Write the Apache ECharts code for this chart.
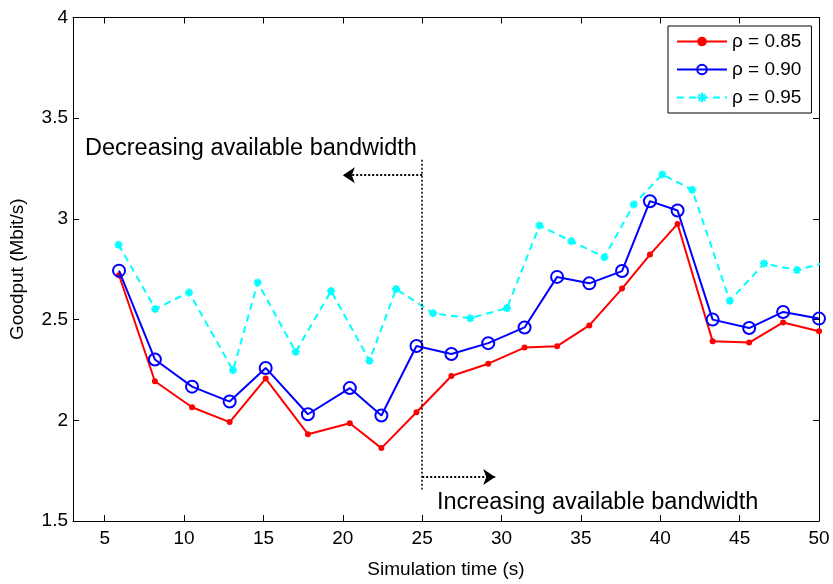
<!DOCTYPE html>
<html>
<head>
<meta charset="utf-8">
<script src="https://cdn.jsdelivr.net/npm/echarts@6/dist/echarts.min.js"></script>
<style>
  html, body { margin: 0; padding: 0; background: #fff; }
  #chart { width: 833px; height: 584px; }
</style>
</head>
<body>
<div id="chart"></div>
<script>
// simulation time (s) of each sample
var timeA = [5.9, 8.16, 10.5, 12.87, 15.14, 17.8, 20.44, 22.43, 24.64, 26.84, 29.16,
             31.45, 33.5, 35.53, 37.59, 39.35, 41.09, 43.3, 45.6, 47.74, 50.0];
var rho85 = [2.72, 2.194, 2.065, 1.991, 2.207, 1.931, 1.985, 1.862, 2.04, 2.22, 2.281,
             2.361, 2.368, 2.471, 2.654, 2.823, 2.975, 2.392, 2.386, 2.486, 2.442];
var rho90 = [2.743, 2.302, 2.167, 2.093, 2.26, 2.03, 2.16, 2.024, 2.369, 2.329, 2.383,
             2.461, 2.712, 2.68, 2.741, 3.088, 3.042, 2.5, 2.458, 2.538, 2.505];
var timeB = [5.87, 8.18, 10.31, 13.08, 14.64, 17.03, 19.26, 21.68, 23.36, 25.69, 28.03,
             30.34, 32.39, 34.4, 36.48, 38.33, 40.13, 42.01, 44.38, 46.54, 48.62, 50.73];
var rho95 = [2.872, 2.553, 2.635, 2.248, 2.684, 2.34, 2.642, 2.296, 2.652, 2.531, 2.507,
             2.557, 2.967, 2.889, 2.81, 3.072, 3.221, 3.145, 2.594, 2.778, 2.746, 2.79];
var xTicks = [5, 10, 15, 20, 25, 30, 35, 40, 45, 50];
var seriesNames = ['ρ = 0.85', 'ρ = 0.90', 'ρ = 0.95'];

function pairs(xs, ys) {
  return xs.map(function (x, i) { return [x, ys[i]]; });
}

var font = 'Liberation Sans, Arial, sans-serif';
var star = 'path://M5,0L5,10M0,5L10,5M1.5,1.5L8.5,8.5M8.5,1.5L1.5,8.5';

var chart = echarts.init(document.getElementById('chart'));

var baseX = {
  type: 'value', min: 3, max: 50,
  axisLine: { lineStyle: { color: '#000', width: 1 } },
  axisTick: { inside: true, length: 6, customValues: xTicks, lineStyle: { color: '#000' } },
  splitLine: { show: false }
};
var baseY = {
  type: 'value', min: 1.5, max: 4, interval: 0.5,
  axisLine: { lineStyle: { color: '#000', width: 1 } },
  axisTick: { inside: true, length: 6, lineStyle: { color: '#000' } },
  splitLine: { show: false }
};

var option = {
  animation: false,
  backgroundColor: '#fff',
  textStyle: { fontFamily: font },
  grid: { left: 72, top: 17.5, right: 14, bottom: 58, containLabel: false },
  xAxis: [
    Object.assign({}, baseX, {
      position: 'bottom',
      name: 'Simulation time (s)', nameLocation: 'middle', nameGap: 39,
      nameTextStyle: { color: '#000', fontSize: 19, fontFamily: font },
      axisLabel: { customValues: xTicks, color: '#000', fontSize: 19, margin: 8, fontFamily: font }
    }),
    Object.assign({}, baseX, { position: 'top', axisLabel: { show: false } })
  ],
  yAxis: [
    Object.assign({}, baseY, {
      position: 'left',
      name: 'Goodput (Mbit/s)', nameLocation: 'middle', nameGap: 46,
      nameTextStyle: { color: '#000', fontSize: 19, fontFamily: font },
      axisLabel: {
        color: '#000', fontSize: 19, margin: 5, fontFamily: font,
        formatter: function (v) { return String(+v.toFixed(1)); }
      }
    }),
    Object.assign({}, baseY, { position: 'right', axisLabel: { show: false } })
  ],
  legend: {
    data: seriesNames,
    orient: 'vertical',
    left: 668, top: 26,
    width: 130,
    padding: [6, 10, 6, 8],
    itemGap: 9,
    itemWidth: 50, itemHeight: 12,
    backgroundColor: '#fff',
    borderColor: '#000', borderWidth: 1, borderRadius: 0,
    textStyle: { color: '#000', fontSize: 19, fontFamily: font }
  },
  series: [
    {
      name: seriesNames[0], type: 'line', data: pairs(timeA, rho85),
      symbol: 'circle', symbolSize: 6, showAllSymbol: true,
      lineStyle: { color: '#ff0000', width: 2 },
      itemStyle: { color: '#ff0000' },
      z: 3
    },
    {
      name: seriesNames[1], type: 'line', data: pairs(timeA, rho90),
      symbol: 'circle', symbolSize: 12, showAllSymbol: true,
      lineStyle: { color: '#0000ff', width: 2 },
      itemStyle: { color: 'rgba(0,0,0,0)', borderColor: '#0000ff', borderWidth: 2 },
      z: 4
    },
    {
      name: seriesNames[2], type: 'line', data: pairs(timeB, rho95),
      symbol: star, symbolSize: 8, showAllSymbol: true,
      lineStyle: { color: '#00ffff', width: 2, type: [7, 5] },
      itemStyle: { color: '#00ffff', borderColor: '#00ffff', borderWidth: 2 },
      z: 2
    },
    {
      name: 'annot', type: 'line', data: [],
      markLine: {
        silent: true, animation: false,
        symbol: ['none', 'arrow'], symbolSize: [12, 12],
        label: { show: false },
        lineStyle: { color: '#000', width: 2, type: [2, 2] },
        data: [
          [{ coord: [25, 3.294], symbol: 'none', lineStyle: { width: 1.5 } },
           { coord: [25, 1.657], symbol: 'none' }],
          [{ coord: [25, 3.217] }, { coord: [20, 3.217] }],
          [{ coord: [25, 1.718] }, { coord: [29.6, 1.718] }]
        ]
      }
    }
  ],
  graphic: [
    {
      type: 'text', left: 85, top: 137,
      style: { text: 'Decreasing available bandwidth', fill: '#000', font: '23.5px ' + font }
    },
    {
      type: 'text', left: 437, top: 491,
      style: { text: 'Increasing available bandwidth', fill: '#000', font: '23.5px ' + font }
    }
  ]
};

chart.setOption(option);
</script>
</body>
</html>
